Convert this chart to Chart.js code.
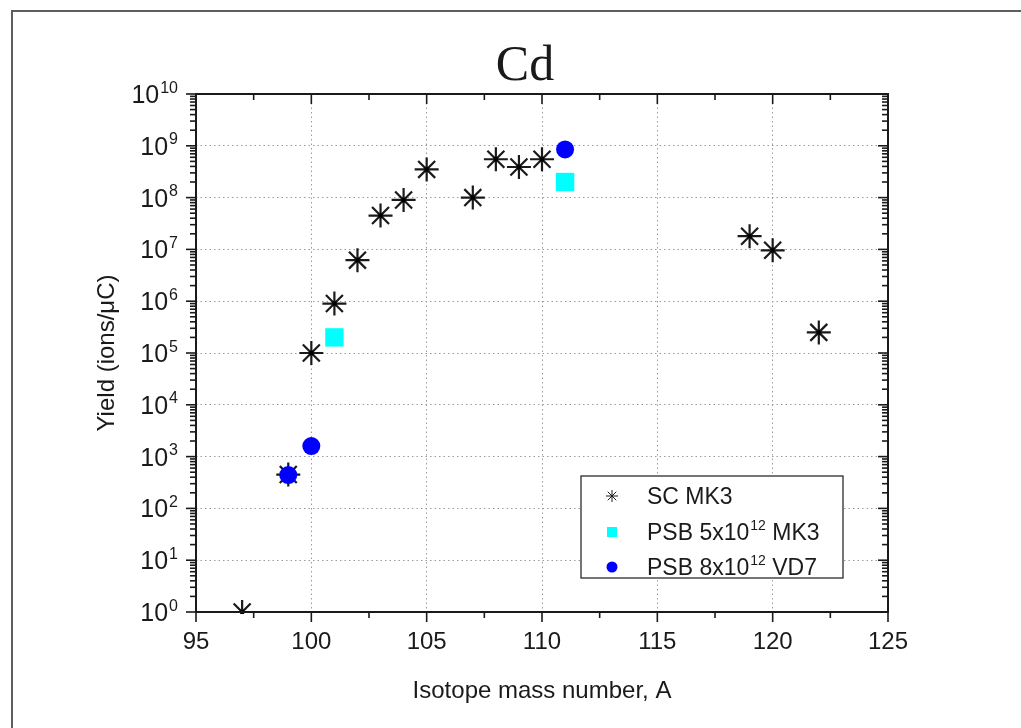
<!DOCTYPE html>
<html>
<head>
<meta charset="utf-8">
<script src="https://cdn.jsdelivr.net/npm/chart.js@4.4.0/dist/chart.umd.min.js"></script>
<style>
  body { margin: 0; background: #fff; }
  #wrap { width: 1021px; height: 728px; position: relative; }
</style>
</head>
<body>
<div id="wrap"><canvas id="chart"></canvas></div>
<script>
// values
const scMass = [97, 99, 100, 101, 102, 103, 104, 105, 107, 108, 109, 110, 119, 120, 122];
const scYield = [1, 450, 1e5, 9e5, 6.2e6, 4.5e7, 9e7, 3.5e8, 1e8, 5.5e8, 3.9e8, 5.5e8, 1.8e7, 9.6e6, 2.5e5];
const psb5Mass = [101, 111];
const psb5Yield = [2e5, 2e8];
const psb8Mass = [99, 100, 111];
const psb8Yield = [440, 1.6e3, 8.5e8];
const xTicks = [95, 100, 105, 110, 115, 120, 125];
const yExponents = [0, 1, 2, 3, 4, 5, 6, 7, 8, 9, 10];

const toPoints = (xs, ys) => xs.map((m, i) => ({ x: m, y: ys[i] }));

const FONT = 'Arial, "Liberation Sans", sans-serif';

function line(ctx, x1, y1, x2, y2) {
  ctx.beginPath();
  ctx.moveTo(x1, y1);
  ctx.lineTo(x2, y2);
  ctx.stroke();
}

function drawStar(ctx, x, y, r) {
  for (let k = 0; k < 4; k++) {
    const ang = k * Math.PI / 4;
    line(ctx, x - r * Math.cos(ang), y - r * Math.sin(ang), x + r * Math.cos(ang), y + r * Math.sin(ang));
  }
}

// text with a superscript part: base, sup, rest
function supText(ctx, x, y, base, sup, rest, size, supSize) {
  ctx.font = size + 'px ' + FONT;
  ctx.fillText(base, x, y);
  let w = ctx.measureText(base).width;
  ctx.font = supSize + 'px ' + FONT;
  ctx.fillText(sup, x + w + 1, y - size * 0.42);
  w += ctx.measureText(sup).width + 1;
  if (rest) {
    ctx.font = size + 'px ' + FONT;
    ctx.fillText(rest, x + w, y);
  }
}

const originAxes = {
  id: 'originAxes',
  beforeDraw(chart) {
    const ctx = chart.ctx;
    ctx.save();
    ctx.fillStyle = '#fff';
    ctx.fillRect(0, 0, chart.width, chart.height);
    ctx.fillStyle = '#5e5e5e';
    ctx.fillRect(11, 10, chart.width - 11, 2);
    ctx.fillRect(11, 10, 2, chart.height - 10);
    ctx.restore();
  },
  afterDatasetDraw(chart, args) {
    // little dot in the middle of each asterisk, before the other series go on top
    if (args.index !== 0) return;
    const ctx = chart.ctx;
    ctx.save();
    ctx.fillStyle = '#000';
    args.meta.data.forEach(p => {
      ctx.fillRect(p.x - 2, p.y - 2, 4, 4);
    });
    ctx.restore();
  },
  afterDraw(chart) {
    const { ctx, chartArea: a, scales: { x, y } } = chart;
    ctx.save();
    ctx.strokeStyle = '#1a1a1a';
    ctx.fillStyle = '#1a1a1a';

    // axis box
    ctx.lineWidth = 2;
    ctx.strokeRect(a.left, a.top, a.right - a.left, a.bottom - a.top);

    // x ticks (down on both bottom and top)
    ctx.lineWidth = 1.6;
    for (let v = xTicks[0]; v <= xTicks[xTicks.length - 1]; v += 2.5) {
      const px = x.getPixelForValue(v);
      const len = v % 5 === 0 ? 10 : 6;
      line(ctx, px, a.bottom, px, a.bottom + len);
      line(ctx, px, a.top, px, a.top + len);
    }
    // y ticks (left on both sides), log minor ticks
    yExponents.forEach(e => {
      for (let k = 1; k <= 9; k++) {
        if (e === yExponents[yExponents.length - 1] && k > 1) break;
        const py = y.getPixelForValue(k * Math.pow(10, e));
        const len = k === 1 ? 10 : 6;
        line(ctx, a.left - len, py, a.left, py);
        line(ctx, a.right - len, py, a.right, py);
      }
    });

    // x tick labels
    ctx.textAlign = 'center';
    ctx.textBaseline = 'middle';
    ctx.font = '24px ' + FONT;
    xTicks.forEach(v => ctx.fillText(String(v), x.getPixelForValue(v), a.bottom + 30));

    // y tick labels 10^n
    ctx.textAlign = 'left';
    ctx.textBaseline = 'alphabetic';
    yExponents.forEach(e => {
      const py = y.getPixelForValue(Math.pow(10, e));
      ctx.font = '16px ' + FONT;
      const sw = ctx.measureText(String(e)).width;
      ctx.font = '25px ' + FONT;
      const bw = ctx.measureText('10').width;
      const right = a.left - 18;
      supText(ctx, right - sw - bw - 1, py + 9, '10', String(e), '', 25, 16);
    });

    // axis titles
    ctx.textAlign = 'center';
    ctx.font = '24px ' + FONT;
    ctx.fillText('Isotope mass number, A', (a.left + a.right) / 2, a.bottom + 86);
    ctx.save();
    ctx.translate(a.left - 82, (a.top + a.bottom) / 2);
    ctx.rotate(-Math.PI / 2);
    ctx.fillText('Yield (ions/\u03BCC)', 0, 0);
    ctx.restore();

    // title
    ctx.font = '50px "Liberation Serif", "Times New Roman", serif';
    ctx.fillText('Cd', 525, 80);

    // legend
    const lx = 581, ly = 476, lw = 262, lh = 102;
    ctx.fillStyle = '#fff';
    ctx.fillRect(lx, ly, lw, lh);
    ctx.lineWidth = 1.2;
    ctx.strokeStyle = '#1a1a1a';
    ctx.strokeRect(lx, ly, lw, lh);
    const mx = 612, tx = 647;
    const rows = [496, 532, 567];
    ctx.lineWidth = 1;
    drawStar(ctx, mx, rows[0], 6);
    ctx.fillStyle = '#00ffff';
    ctx.fillRect(mx - 5, rows[1] - 5, 10, 10);
    ctx.fillStyle = '#0000ff';
    ctx.beginPath();
    ctx.arc(mx, rows[2], 5.5, 0, Math.PI * 2);
    ctx.fill();
    ctx.fillStyle = '#1a1a1a';
    ctx.textAlign = 'left';
    ctx.font = '23px ' + FONT;
    ctx.fillText('SC MK3', tx, rows[0] + 8);
    supText(ctx, tx, rows[1] + 8, 'PSB 5x10', '12', ' MK3', 23, 14);
    supText(ctx, tx, rows[2] + 8, 'PSB 8x10', '12', ' VD7', 23, 14);

    ctx.restore();
  }
};

new Chart(document.getElementById('chart'), {
  type: 'scatter',
  data: {
    datasets: [
      {
        label: 'SC MK3',
        data: toPoints(scMass, scYield),
        pointStyle: 'star',
        pointRadius: 12,
        borderColor: '#1a1a1a',
        backgroundColor: '#1a1a1a',
        borderWidth: 2.2,
        order: 2
      },
      {
        label: 'PSB 5x10^12 MK3',
        data: toPoints(psb5Mass, psb5Yield),
        pointStyle: 'rect',
        pointRadius: 13,
        borderWidth: 0,
        backgroundColor: '#00ffff',
        order: 1
      },
      {
        label: 'PSB 8x10^12 VD7',
        data: toPoints(psb8Mass, psb8Yield),
        pointStyle: 'circle',
        pointRadius: 9,
        borderWidth: 0,
        backgroundColor: '#0000ff',
        order: 0
      }
    ]
  },
  options: {
    responsive: true,
    maintainAspectRatio: false,
    animation: false,
    clip: 0,
    layout: { padding: { left: 196, right: 133, top: 94, bottom: 116 } },
    plugins: { legend: { display: false }, tooltip: { enabled: false } },
    scales: {
      x: {
        type: 'linear',
        min: 95,
        max: 125,
        afterBuildTicks: s => { s.ticks = xTicks.map(v => ({ value: v })); },
        ticks: { display: false },
        grid: { drawTicks: false, color: '#9a9a9a', lineWidth: 1 },
        border: { display: false, dash: [1.5, 3] }
      },
      y: {
        type: 'logarithmic',
        min: 1,
        max: 1e10,
        afterBuildTicks: s => { s.ticks = yExponents.map(e => ({ value: Math.pow(10, e) })); },
        ticks: { display: false },
        grid: { drawTicks: false, color: '#9a9a9a', lineWidth: 1 },
        border: { display: false, dash: [1.5, 3] }
      }
    }
  },
  plugins: [originAxes]
});
</script>
</body>
</html>
